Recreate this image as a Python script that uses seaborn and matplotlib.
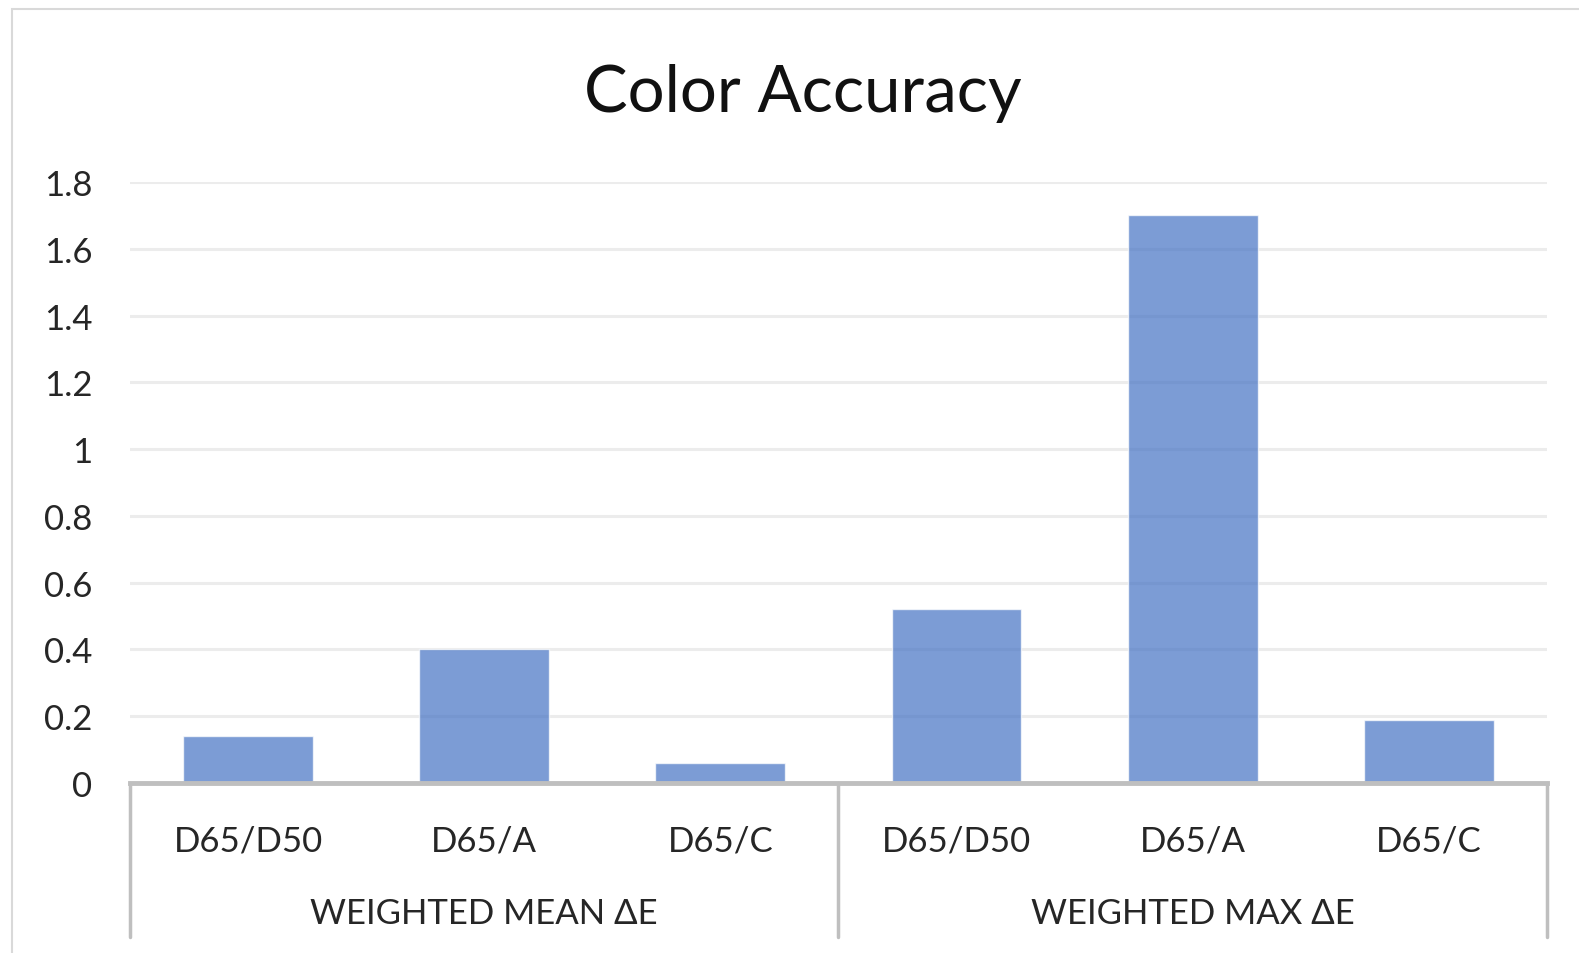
import pandas as pd
import seaborn as sns
import matplotlib.pyplot as plt
from matplotlib.patches import Rectangle

# Data
groups = ["WEIGHTED MEAN ΔE", "WEIGHTED MEAN ΔE", "WEIGHTED MEAN ΔE",
          "WEIGHTED MAX ΔE", "WEIGHTED MAX ΔE", "WEIGHTED MAX ΔE"]
labels = ["D65/D50", "D65/A", "D65/C", "D65/D50", "D65/A", "D65/C"]
values = [0.14, 0.40, 0.06, 0.52, 1.70, 0.19]
yticks = [0, 0.2, 0.4, 0.6, 0.8, 1.0, 1.2, 1.4, 1.6, 1.8]


def main():
    sns.set_style("white")
    plt.rcParams["font.family"] = ["Lato", "DejaVu Sans"]

    df = pd.DataFrame({"group": groups, "label": labels, "value": values})
    df["key"] = df["group"] + " | " + df["label"]

    fig = plt.figure(figsize=(15.79, 9.54), dpi=100)
    ax = fig.add_axes([0.0823, 0.1782, 0.8974, 0.63])

    sns.barplot(data=df, x="key", y="value", color="#4472C4", alpha=0.7,
                width=0.55, saturation=1, ax=ax, zorder=2)

    ax.set_ylim(0, 1.8)
    ax.set_xlim(-0.5, len(df) - 0.5)
    ax.set_yticks(yticks)
    ax.set_yticklabels([f"{v:g}" for v in yticks], fontsize=25)
    ax.tick_params(axis="y", length=0, pad=27)
    ax.yaxis.grid(True, color="#ECECEC", linewidth=2.2, zorder=0)
    ax.set_axisbelow(True)

    ax.set_xticks(range(len(df)))
    ax.set_xticklabels(df["label"], fontsize=25)
    ax.tick_params(axis="x", length=0, pad=30)
    ax.set_xlabel("")
    ax.set_ylabel("")

    for side in ["top", "left", "right"]:
        ax.spines[side].set_visible(False)
    ax.spines["bottom"].set_color("#BFBFBF")
    ax.spines["bottom"].set_linewidth(3.5)

    # group separators and group labels under the axis
    trans = ax.get_xaxis_transform()
    n_groups = list(dict.fromkeys(groups))
    bounds = [-0.5]
    for g in n_groups:
        idx = list(df.index[df["group"] == g])
        bounds.append(max(idx) + 0.5)
        ax.text(sum(idx) / len(idx), -0.216, g, transform=trans, ha="center",
                va="center", fontsize=25)
    for b in bounds:
        ax.plot([b, b], [0, -0.256], transform=trans, color="#BFBFBF",
                linewidth=2.5, clip_on=False)

    # title is centred on the whole chart, not on the plot area
    fig.text(0.5085, 0.902, "Color Accuracy", ha="center", va="center",
             fontsize=47, color="#111111")

    fig.add_artist(Rectangle((0.0076, -0.05), 1.1, 1.0395,
                             transform=fig.transFigure, fill=False,
                             edgecolor="#D9D9D9", linewidth=1.5))

    fig.savefig("out.png", dpi=100)


if __name__ == "__main__":
    main()
